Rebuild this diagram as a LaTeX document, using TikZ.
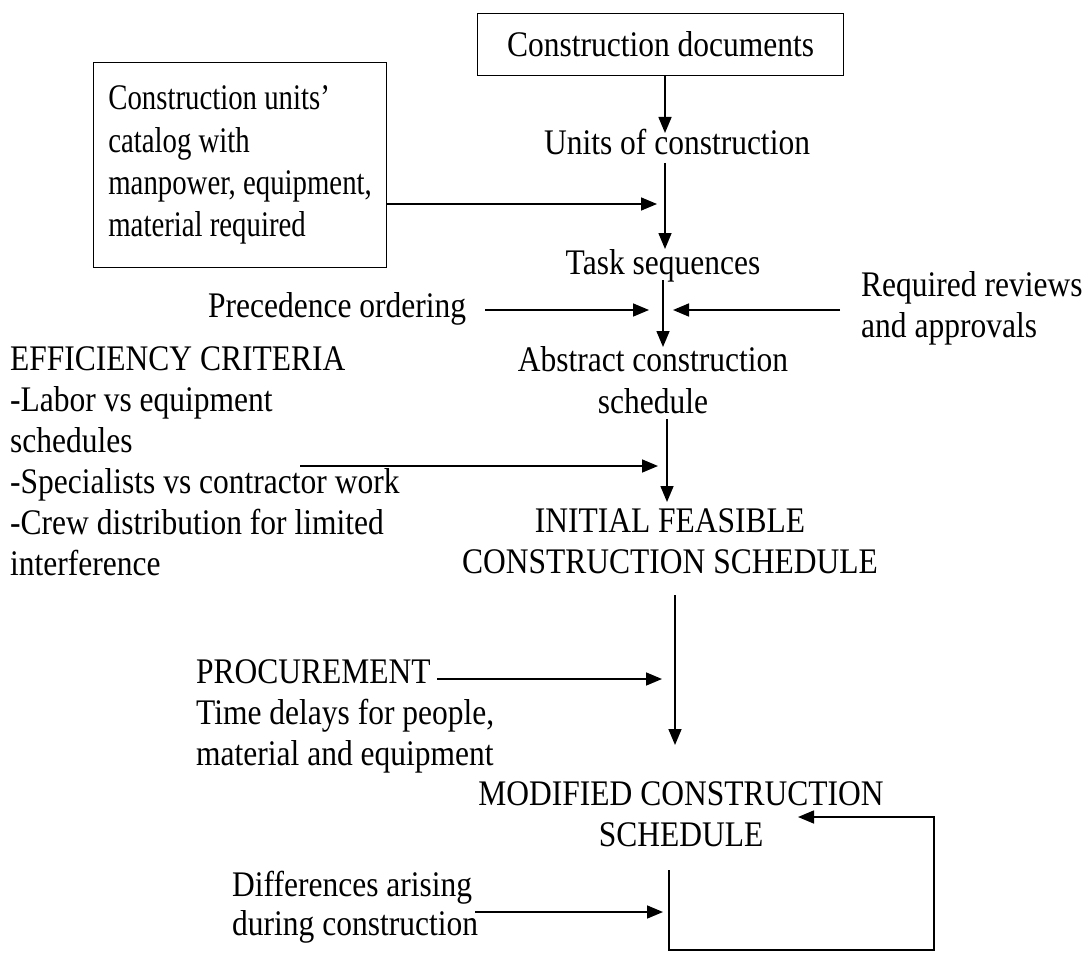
\documentclass[tikz,border=0pt]{standalone}
\usepackage{fontspec}
\setmainfont[FakeStretch=0.875]{Liberation Serif}
\newfontfamily\catfont[FakeStretch=0.8]{Liberation Serif}
\usetikzlibrary{arrows.meta}
\begin{document}
\begin{tikzpicture}[x=1pt,y=-1pt,
  lbl/.style={inner sep=0pt, font=\fontsize{36}{42}\selectfont},
  box/.style={draw, line width=1.2pt},
  flow/.style={line width=1.6pt, -{Triangle[length=16pt,width=13pt]}}]
\useasboundingbox (0,0) rectangle (1091,952);
\fill[white] (0,0) rectangle (1091,952);

% text nodes (multi-line nodes are placed by the baseline of their last line)
\node[lbl, box, anchor=north west, minimum width=366pt, minimum height=62pt,
      align=left] (docs) at (477,13) {Construction documents};
\node[lbl, anchor=base] (units) at (677,155) {Units of construction};
\node[lbl, box, anchor=north west, minimum width=293pt, minimum height=205pt,
      align=left, font=\catfont\fontsize{36}{42.3}\selectfont] (cat) at (93,62)
      {Construction units’\\catalog with\\manpower, equipment,\\material required};
\node[lbl, anchor=base] (task) at (663,274) {Task sequences};
\node[lbl, anchor=base west] (prec) at (208,317) {Precedence ordering};
\node[lbl, anchor=base west, align=left, font=\fontsize{36}{41}\selectfont] (rev) at (861,337) {Required reviews\\and approvals};
\node[lbl, anchor=base, align=center, font=\fontsize{36}{42}\selectfont] (abs) at (653,413) {Abstract construction\\schedule};
\node[lbl, anchor=base west, align=left, font=\fontsize{36}{41}\selectfont] (eff) at (10,575)
      {EFFICIENCY CRITERIA\\-Labor vs equipment\\schedules\\-Specialists vs contractor work\\-Crew distribution for limited\\interference};
\node[lbl, anchor=base, align=center, font=\fontsize{36}{41}\selectfont] (init) at (670,573) {INITIAL FEASIBLE\\CONSTRUCTION SCHEDULE};
\node[lbl, anchor=base west, align=left, font=\fontsize{36}{41}\selectfont] (proc) at (196,765)
      {PROCUREMENT\\Time delays for people,\\material and equipment};
\node[lbl, anchor=base, align=center, font=\fontsize{36}{41}\selectfont] (mod) at (681,846) {MODIFIED CONSTRUCTION\\SCHEDULE};
\node[lbl, anchor=base west, align=left, font=\fontsize{36}{39}\selectfont] (diff) at (232,935)
      {Differences arising\\during construction};

% connector end points
\coordinate (u-in) at (665,133);
\coordinate (u-out) at (665,163);
\coordinate (t-in) at (665,249);
\coordinate (c-in) at (657,204);
\coordinate (t-out) at (663,280);
\coordinate (a-in) at (663,347);
\coordinate (p-out) at (485,310);
\coordinate (p-in) at (649,310);
\coordinate (r-out) at (840,310);
\coordinate (r-in) at (673,310);
\coordinate (a-out) at (667,419);
\coordinate (i-in) at (667,502);
\coordinate (e-out) at (300,466);
\coordinate (e-in) at (658,466);
\coordinate (i-out) at (675,595);
\coordinate (m-in) at (675,745);
\coordinate (pr-out) at (437,679);
\coordinate (pr-in) at (662,679);
\coordinate (l1) at (669,870);
\coordinate (l2) at (669,950);
\coordinate (l3) at (934,950);
\coordinate (l4) at (934,817);
\coordinate (m-fb) at (798,817);
\coordinate (d-out) at (475,912);
\coordinate (d-in) at (663,912);

% connectors
\draw[flow] (docs.south -| u-in) -- (u-in);
\draw[flow] (u-out) -- (t-in);
\draw[flow] (cat.east |- c-in) -- (c-in);
\draw[flow] (t-out) -- (a-in);
\draw[flow] (p-out) -- (p-in);
\draw[flow] (r-out) -- (r-in);
\draw[flow] (a-out) -- (i-in);
\draw[flow] (e-out) -- (e-in);
\draw[flow] (i-out) -- (m-in);
\draw[flow] (pr-out) -- (pr-in);
\draw[flow] (l1) -- (l2) -- (l3) -- (l4) -- (m-fb);
\draw[flow] (d-out) -- (d-in);
\end{tikzpicture}
\end{document}
